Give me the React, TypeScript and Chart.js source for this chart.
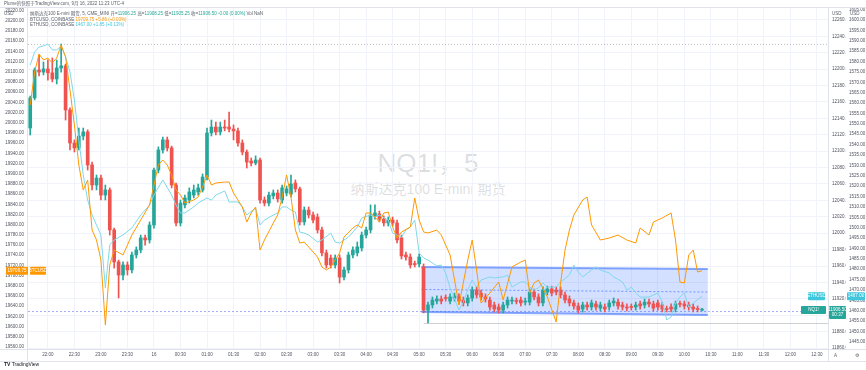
import React, { useEffect, useRef } from 'react';
import { Chart, registerables } from 'chart.js';

Chart.register(...registerables);

const FONT = '"Liberation Sans", "Noto Sans CJK SC", sans-serif';

// time slots (5-minute bars) of the category axis
const FIRST_SLOT_HOUR = 21;
const FIRST_SLOT_MIN = 40;
const SLOT_COUNT = 181;

// NQ1! 5-minute candles (right scale)
const nqOpen = [
  12128.25, 12165, 12199, 12196.5, 12200.25, 12195.5, 12188, 12201.5, 12204, 12150.25,
  12110, 12104, 12118.5, 12123.5, 12083.25, 12058.75, 12067.25, 12046.5, 12052.75, 12004,
  11965, 11949, 11961.25, 11955.25, 11973.5, 11979.5, 11994.25, 11991.75, 12010, 12077,
  12101.5, 12113.75, 12104, 12058.75, 12012.5, 12034.5, 12040.5, 12046.5, 12050.25, 12052.75,
  12068.5, 12122.25, 12129.5, 12123.5, 12129.5, 12129.5, 12127, 12124.75, 12110, 12099,
  12088, 12085.5, 12089.25, 12040.5, 12036.75, 12045.5, 12049, 12040.5, 12049, 12047.75,
  12061.25, 12054, 12013.75, 12028.25, 12022.25, 12019.75, 12004, 11976, 11969.75, 11961.25,
  11969.75, 11946.5, 11955.25, 11973.5, 11976, 11982, 11997.75, 12004, 12021, 12023.5,
  12017.25, 12012.5, 12016, 12012.5, 11994.25, 11973.5, 11971, 11962.5, 11962.5, 11958.75,
  11906.25, 11912.5, 11917.25, 11919.75, 11921, 11917.25, 11921, 11922.25, 11918.5, 11915,
  11921, 11930.75, 11927, 11922.25, 11918.5, 11912.5, 11910, 11906.25, 11912.5, 11917.25,
  11917.25, 11918.5, 11916, 11916, 11928.25, 11922.25, 11915, 11928.25, 11932, 11930.75,
  11930.75, 11924.75, 11919.75, 11915, 11911.25, 11907.5, 11912.5, 11910, 11913.75, 11908.75,
  11910, 11910, 11915, 11916, 11912.5, 11910, 11910, 11910, 11913.75, 11912.5,
  11916, 11913.75, 11915, 11912.5, 11907.5, 11910, 11907.5, 11913.75, 11913.75, 11912.5,
  11910, 11907.5, 11906.25,
];
const nqHigh = [
  12167.25, 12201.5, 12217.25, 12208.75, 12211.25, 12213.75, 12211.25, 12230.75, 12206.25, 12152.75,
  12113.75, 12128.25, 12128.25, 12126, 12086.75, 12071, 12071, 12058.75, 12055.25, 12006.25,
  11967.25, 11965, 11965, 11977, 11983.25, 11997.75, 11997.75, 12013.75, 12079.5, 12105.25,
  12117.25, 12117.25, 12106.25, 12061.25, 12040.5, 12046.5, 12055.25, 12058.75, 12060, 12072.25,
  12128.25, 12138, 12135.5, 12135.5, 12138, 12147.75, 12132, 12128.25, 12113.75, 12101.5,
  12091.75, 12094.25, 12091.75, 12044.25, 12050.25, 12052.75, 12052.75, 12058.75, 12057.5, 12071,
  12065, 12056.25, 12032, 12032, 12025.75, 12023.5, 12007.5, 11979.5, 11973.5, 11973.5,
  11973.5, 11958.75, 11977, 11983.25, 11989.25, 12001.5, 12007.5, 12034.5, 12034.5, 12027,
  12021, 12019.75, 12019.75, 12016, 11997.75, 11977, 11974.75, 11966, 11974.75, 11962.5,
  11916, 11922.25, 11923.5, 11923.5, 11924.75, 11926, 11927, 11926, 11922.25, 11924.75,
  11934.5, 11934.5, 11930.75, 11926, 11922.25, 11916, 11913.75, 11916, 11922.25, 11922.25,
  11921, 11922.25, 11921, 11932, 11932, 11926, 11934.5, 11935.5, 11935.5, 11934.5,
  11934.5, 11928.25, 11923.5, 11918.5, 11915, 11916, 11916, 11918.5, 11917.25, 11916,
  11913.75, 11918.5, 11921, 11919.75, 11916, 11913.75, 11913.75, 11916, 11917.25, 11919.75,
  11919.75, 11917.25, 11918.5, 11916, 11911.25, 11913.75, 11917.25, 11917.25, 11917.25, 11916,
  11913.75, 11911.25, 11908.25,
];
const nqLow = [
  12119.75, 12162.5, 12191.75, 12193, 12186.75, 12184.5, 12182, 12196.5, 12138, 12101.5,
  12099, 12101.5, 12113.75, 12077, 12052.75, 12052.75, 12040.5, 12040.5, 11997.75, 11957.5,
  11921, 11943, 11949, 11951.5, 11969.75, 11976, 11985.5, 11988, 12006.25, 12073.5,
  12097.75, 12100.25, 12055.25, 12008.75, 12008.75, 12030.75, 12036.75, 12043, 12046.5, 12050.25,
  12065, 12118.5, 12119.75, 12119.75, 12124.75, 12123.5, 12113.75, 12106.25, 12095.5, 12079.5,
  12082, 12083.25, 12036.75, 12033.25, 12033.25, 12041.75, 12038, 12036.75, 12045.5, 12044.25,
  12050.25, 12010, 12010, 12018.5, 12012.5, 12000.25, 11972.25, 11957.5, 11957.5, 11957.5,
  11939.25, 11943, 11951.5, 11969.75, 11972.25, 11978.25, 11994.25, 12000.25, 12017.25, 12013.75,
  12008.75, 12008.75, 12008.75, 11988, 11968.5, 11967.25, 11957.5, 11958.75, 11958.75, 11902.75,
  11890.5, 11908.75, 11913.75, 11913.75, 11917.25, 11913.75, 11917.25, 11913.75, 11911.25, 11911.25,
  11917.25, 11921, 11918.5, 11916, 11906.25, 11904, 11902.75, 11902.75, 11908.75, 11913.75,
  11913.75, 11911.25, 11912.5, 11912.5, 11918.5, 11911.25, 11911.25, 11924.75, 11923.5, 11924.75,
  11921, 11915, 11911.25, 11907.5, 11902.75, 11904, 11906.25, 11906.25, 11906.25, 11905.25,
  11904, 11906.25, 11911.25, 11907.5, 11906.25, 11905.25, 11906.25, 11906.25, 11907.5, 11908.75,
  11910, 11905.25, 11906.25, 11904, 11904, 11904, 11904, 11910, 11907.5, 11906.25,
  11904, 11904, 11905.25,
];
const nqClose = [
  12165, 12199, 12196.5, 12200.25, 12195.5, 12188, 12201.5, 12204, 12150.25, 12110,
  12104, 12118.5, 12123.5, 12083.25, 12058.75, 12067.25, 12046.5, 12052.75, 12004, 11965,
  11949, 11961.25, 11955.25, 11973.5, 11979.5, 11994.25, 11991.75, 12010, 12077, 12101.5,
  12113.75, 12104, 12058.75, 12012.5, 12036.75, 12043, 12050.25, 12052.75, 12055.25, 12068.5,
  12122.25, 12129.5, 12123.5, 12129.5, 12128.25, 12127, 12124.75, 12110, 12099, 12086.75,
  12085.5, 12089.25, 12040.5, 12036.75, 12046.5, 12049, 12041.75, 12055.25, 12054, 12060,
  12054, 12013.75, 12028.25, 12022.25, 12016, 12004, 11976, 11961.25, 11961.25, 11969.75,
  11946.5, 11955.25, 11973.5, 11979.5, 11983.25, 11997.75, 12004, 12022.25, 12024.75, 12017.25,
  12012.5, 12016, 12012.5, 11991.75, 11972.25, 11971, 11961.25, 11961.75, 11971, 11906.25,
  11912.5, 11918.5, 11919.75, 11917.25, 11920.5, 11922.25, 11923.5, 11917.25, 11915, 11921,
  11930.75, 11924.75, 11922.25, 11919.75, 11910, 11907.5, 11906.25, 11912.5, 11918.5, 11918.5,
  11916.75, 11915, 11917.25, 11928.25, 11922.25, 11915, 11930.75, 11932, 11927, 11928.25,
  11924.75, 11918.5, 11915, 11911.25, 11906.25, 11912.5, 11910, 11915, 11910, 11912.5,
  11907.5, 11915, 11917.25, 11911.25, 11910, 11908.75, 11909.5, 11912.5, 11911.25, 11916,
  11913.75, 11908.75, 11910, 11907.5, 11907, 11907.5, 11913.75, 11913.25, 11911.25, 11910,
  11907.5, 11907, 11906.5,
];

// BTCUSD (left scale) – readings at bar indices
const btcIndex = [
  0, 1, 2, 3, 4, 5, 6, 7, 8, 9, 10, 11, 12, 13, 14, 15, 16, 17, 18, 19, 21, 23, 25, 27, 29, 30, 31, 32, 33,
  34, 35, 37, 38, 39, 40, 41, 42, 44, 45, 46, 48, 49, 50, 51, 52, 53, 55, 56, 57, 58, 59, 60, 61, 62, 63,
  65, 66, 67, 68, 70, 71, 73, 74, 75, 76, 77, 78, 79, 80, 81, 82, 83, 84, 86, 87, 88, 89, 90,
  92, 93, 95, 97, 99, 100, 101, 102, 104, 106, 107, 109, 111, 112, 113, 114, 115, 117, 119, 120, 121,
  122, 123, 125, 126, 127, 129, 131, 133, 135, 137, 138, 140, 141, 143, 145, 146, 147, 148, 149, 150, 151, 152,
];
const btcValue = [
  20034.8, 20099.5, 20134.9, 20123.1, 20127, 20117.2, 20127, 20152.5, 20129, 20064.2, 19995.6, 19917.1,
  19868, 19887.6, 19789.5, 19769.9, 19730.7, 19603.2, 19720.9, 19750.3, 19740.5, 19779.7, 19809.2, 19838.6,
  19917.1, 19926.9, 19917.1, 19897.5, 19868,
  19858.2, 19842.5, 19848.4, 19854.3, 19873.9, 19897.5, 19877.8, 19881.8, 19883.7, 19883.7, 19862.1, 19834.7,
  19805.2, 19822.9, 19834.7, 19750.3, 19769.9, 19803.3, 19819, 19854.3, 19897.5, 19854.3, 19789.5, 19764,
  19766, 19756.2, 19736.6, 19717, 19711.1, 19717, 19744.4, 19775.8, 19793.5, 19799.4, 19793.5, 19822.9,
  19822.9, 19815, 19805.2, 19822.9, 19824.9, 19795.4, 19773.8, 19785.6, 19795.4, 19852.3, 19809.2, 19785.6, 19783.7,
  19789.5, 19779.7, 19740.5, 19642.4, 19730.7, 19769.9, 19711.1, 19646.3, 19665.9, 19687.5, 19652.2, 19717,
  19726.8, 19730.7, 19665.9, 19685.6, 19691.4, 19658.1, 19609, 19685.6, 19750.3, 19789.5, 19819, 19848.4,
  19854.3, 19799.4, 19769.9, 19773.8, 19779.7, 19769.9, 19764, 19793.5, 19779.7, 19805.2, 19813.1, 19822.9,
  19769.9, 19687.5, 19685.6, 19740.5, 19750.3, 19707.1, 19709.75,
];

// ETHUSD (second right scale) – readings at bar indices
const ethIndex = [
  0, 1, 2, 3, 4, 5, 6, 7, 8, 9, 10, 11, 12, 13, 14, 15, 16, 17, 18, 19, 21, 23, 25, 27, 28, 30, 32, 33,
  34, 35, 37, 38, 40, 41, 42, 44, 45, 47, 48, 49, 51, 52, 53, 55, 56, 57, 58, 59, 60, 61, 62, 63, 65, 66,
  68, 69, 70, 72, 73, 74, 75, 77, 78, 79, 81, 82, 84, 85, 86, 87, 88, 89, 90,
  92, 93, 94, 95, 97, 98, 99, 100, 101, 102, 104, 105, 107, 108, 109, 111, 112, 113, 114, 115, 116, 117,
  119, 120, 122, 123, 124, 125, 127, 128, 129, 131, 132, 134, 135, 136, 137, 138, 140, 142, 143, 144, 145,
  146, 147, 148, 149, 150, 152,
];
const ethValue = [
  1578.3, 1584.6, 1587.0, 1587.5, 1588.4, 1585.6, 1585.6, 1587.5, 1582.2, 1575.0, 1561.5, 1542.2, 1525.4,
  1513.3, 1506.1, 1501.3, 1496.5, 1471.0, 1491.7, 1494.1, 1496.5, 1499.9, 1506.1, 1510.9, 1515.7, 1523.0,
  1515.7, 1510.9,
  1507.1, 1507.1, 1510.0, 1511.9, 1514.3, 1513.3, 1515.7, 1517.7, 1512.4, 1512.4, 1510.0, 1506.1, 1509.5,
  1501.3, 1503.7, 1506.1, 1507.1, 1510.0, 1510.0, 1508.5, 1507.6, 1497.9, 1497.4, 1496.5, 1493.1, 1494.1,
  1497.4, 1493.1, 1492.6, 1495.5, 1497.9, 1500.3, 1504.7, 1506.1, 1505.1, 1506.1, 1503.7, 1497.4, 1495.5,
  1498.9, 1500.3, 1503.7, 1487.8, 1485.4, 1484.4,
  1481.6, 1482.0, 1478.2, 1471.0, 1460.4, 1464.2, 1470.0, 1474.8, 1471.4, 1474.8, 1476.3, 1475.8, 1476.3,
  1477.2, 1471.4, 1473.9, 1473.9, 1471.4, 1470.0, 1471.0, 1473.4, 1471.4, 1471.4, 1473.9, 1477.2, 1482.0,
  1478.7, 1476.3, 1479.6, 1481.1, 1479.6, 1478.2, 1476.3, 1473.9, 1470.0, 1471.4, 1468.6, 1466.6, 1466.6,
  1468.6, 1464.2, 1455.6, 1457.0, 1463.7, 1466.6, 1468.6, 1461.8, 1463.7, 1467.0,
];

// scale ranges and steps
const btcRange = [19556.1, 20225.1];
const nqRange = [11858.8, 12274.6];
const ethRange = [1441.6, 1605.78];
const btcStep = 20;
const nqStep = 20;
const ethStep = 5;

// drawings (NQ price values, bar indices)
const channelStart = 88.5;
const channelEnd = 153.3;
const channelTop = [11958.75, 11956.25];
const channelBottom = [11904, 11900.25];
const highLine = 12230.75;
const lowRayLevel = 11890.5;
const lowRayStart = 89;
const blueLevel = 11905;

const legendNQ = { title: '纳斯达克100 E-mini 期货, 5, CME_MINI', o: '11906.25', h: '11908.25', l: '11905.25', c: '11906.50', chg: '-0.00 (0.00%)' };
const legendBTC = { title: 'BTCUSD, COINBASE', last: '19709.75', chg: '+5.86 (+0.03%)' };
const legendETH = { title: 'ETHUSD, COINBASE', last: '1467.00', chg: '+1.85 (+0.13%)' };

const UP = '#26a69a';
const DOWN = '#ef5350';
const BTC_COLOR = '#ff9800';
const ETH_COLOR = '#7fd8ea';
const ETH_LABEL = '#3ec6dc';

function slotLabels(): string[] {
  const out: string[] = [];
  let h = FIRST_SLOT_HOUR;
  let m = FIRST_SLOT_MIN;
  for (let i = 0; i < SLOT_COUNT; i++) {
    out.push(`${String(h).padStart(2, '0')}:${String(m).padStart(2, '0')}`);
    m += 5;
    if (m >= 60) { m -= 60; h = (h + 1) % 24; }
  }
  return out;
}

function sparse(idx: number[], val: number[]): (number | null)[] {
  const arr: (number | null)[] = new Array(nqClose.length).fill(null);
  idx.forEach((ix, k) => { arr[ix] = val[k]; });
  return arr;
}

function labelBox(ctx: CanvasRenderingContext2D, x: number, y: number, w: number, h: number, bg: string, lines: string[]) {
  ctx.fillStyle = bg;
  ctx.beginPath();
  (ctx as any).roundRect ? (ctx as any).roundRect(x, y - h / 2, w, h, 1) : ctx.rect(x, y - h / 2, w, h);
  ctx.fill();
  ctx.fillStyle = '#ffffff';
  ctx.font = `4.5px ${FONT}`;
  ctx.textAlign = 'center';
  ctx.textBaseline = 'middle';
  const lh = 5;
  const y0 = y - ((lines.length - 1) * lh) / 2;
  lines.forEach((t, i) => ctx.fillText(t, x + w / 2, y0 + i * lh));
}

const overlayPlugin = {
  id: 'tvOverlay',
  beforeDatasetsDraw(chart: any) {
    const { ctx, chartArea: a, scales } = chart;
    const x = scales.x;
    const nq = scales.yNQ;
    ctx.save();
    ctx.beginPath();
    ctx.rect(a.left, a.top, a.right - a.left, a.bottom - a.top);
    ctx.clip();

    ctx.strokeStyle = 'rgba(120,123,134,0.45)';
    ctx.lineWidth = 1;
    ctx.setLineDash([1, 2]);
    let y = Math.round(nq.getPixelForValue(highLine)) + 0.5;
    ctx.beginPath(); ctx.moveTo(a.left, y); ctx.lineTo(a.right, y); ctx.stroke();

    y = Math.round(nq.getPixelForValue(lowRayLevel)) + 0.5;
    ctx.strokeStyle = 'rgba(120,123,134,0.35)';
    ctx.setLineDash([]);
    ctx.beginPath(); ctx.moveTo(x.getPixelForValue(lowRayStart), y); ctx.lineTo(a.right, y); ctx.stroke();

    y = Math.round(nq.getPixelForValue(blueLevel)) + 0.5;
    ctx.strokeStyle = 'rgba(98,110,240,0.55)';
    ctx.setLineDash([2, 2]);
    ctx.beginPath(); ctx.moveTo(a.left, y); ctx.lineTo(a.right, y); ctx.stroke();

    const x1 = x.getPixelForValue(channelStart);
    const x2 = x.getPixelForValue(channelEnd);
    const t1 = nq.getPixelForValue(channelTop[0]);
    const t2 = nq.getPixelForValue(channelTop[1]);
    const b1 = nq.getPixelForValue(channelBottom[0]);
    const b2 = nq.getPixelForValue(channelBottom[1]);
    ctx.setLineDash([]);
    ctx.fillStyle = 'rgba(41,98,255,0.2)';
    ctx.beginPath();
    ctx.moveTo(x1, t1); ctx.lineTo(x2, t2); ctx.lineTo(x2, b2); ctx.lineTo(x1, b1); ctx.closePath();
    ctx.fill();
    ctx.strokeStyle = 'rgba(41,98,255,0.55)';
    ctx.lineWidth = 2;
    ctx.beginPath(); ctx.moveTo(x1, t1); ctx.lineTo(x2, t2); ctx.stroke();
    ctx.beginPath(); ctx.moveTo(x1, b1); ctx.lineTo(x2, b2); ctx.stroke();
    ctx.lineWidth = 1;
    ctx.setLineDash([2, 2]);
    ctx.strokeStyle = 'rgba(41,98,255,0.6)';
    ctx.beginPath(); ctx.moveTo(x1, (t1 + b1) / 2); ctx.lineTo(x2, (t2 + b2) / 2); ctx.stroke();
    ctx.restore();
  },
  afterDraw(chart: any) {
    const { ctx, chartArea: a, scales } = chart;
    ctx.save();
    ctx.strokeStyle = '#e0e3eb';
    ctx.lineWidth = 1;
    ctx.beginPath();
    ctx.moveTo(0, a.top - 0.5); ctx.lineTo(866, a.top - 0.5);
    ctx.moveTo(0, a.bottom + 0.5); ctx.lineTo(866, a.bottom + 0.5);
    ctx.moveTo(0, 361.5); ctx.lineTo(866, 361.5);
    ctx.moveTo(a.left - 0.5, a.top); ctx.lineTo(a.left - 0.5, 361);
    ctx.moveTo(a.right + 0.5, a.top); ctx.lineTo(a.right + 0.5, 361);
    ctx.stroke();

    const btcLast = btcValue[btcValue.length - 1];
    const ethLast = ethValue[ethValue.length - 1];
    const nqLast = nqClose[nqClose.length - 1];
    const yb = scales.yBTC.getPixelForValue(btcLast);
    labelBox(ctx, 6, yb, 22, 8, BTC_COLOR, [btcLast.toFixed(2)]);
    labelBox(ctx, 30, yb, 16, 8, BTC_COLOR, ['BTCUSD']);
    const ye = scales.yETH.getPixelForValue(ethLast);
    labelBox(ctx, 847, ye, 18, 8, ETH_LABEL, [ethLast.toFixed(2)]);
    labelBox(ctx, 808, ye, 17, 8, ETH_LABEL, ['ETHUSD']);
    const yn = scales.yNQ.getPixelForValue(nqLast);
    labelBox(ctx, 829, yn + 2.5, 17, 13, UP, [nqLast.toFixed(2), '00:37']);
    labelBox(ctx, 801, yn, 25, 8, UP, ['NQ1!']);
    ctx.restore();
  },
};

export default function App() {
  const ref = useRef<HTMLCanvasElement>(null);

  useEffect(() => {
    document.body.style.margin = '0';
    const labels = slotLabels();
    const isHalfHour = (i: number) => labels[i] && (labels[i].endsWith(':00') || labels[i].endsWith(':30'));
    const colors = nqClose.map((c, i) => (c >= nqOpen[i] ? UP : DOWN));
    const tickFont = { size: 4.5, family: FONT };
    const tickColor = '#50535e';

    const chart = new Chart(ref.current as HTMLCanvasElement, {
      type: 'bar',
      data: {
        labels,
        datasets: [
          {
            type: 'line',
            label: 'BTCUSD',
            data: sparse(btcIndex, btcValue),
            yAxisID: 'yBTC',
            borderColor: BTC_COLOR,
            borderWidth: 1,
            pointRadius: 0,
            spanGaps: true,
            tension: 0,
            order: 0,
          } as any,
          {
            type: 'line',
            label: 'ETHUSD',
            data: sparse(ethIndex, ethValue),
            yAxisID: 'yETH',
            borderColor: ETH_COLOR,
            borderWidth: 1,
            pointRadius: 0,
            spanGaps: true,
            tension: 0,
            order: 0,
          } as any,
          {
            type: 'bar',
            label: 'body',
            data: nqOpen.map((o, i) => [o, nqClose[i]]),
            yAxisID: 'yNQ',
            backgroundColor: colors,
            barThickness: 3,
            minBarLength: 1,
            grouped: false,
            order: 1,
          } as any,
          {
            type: 'bar',
            label: 'wick',
            data: nqLow.map((l, i) => [l, nqHigh[i]]),
            yAxisID: 'yNQ',
            backgroundColor: colors,
            barThickness: 1,
            grouped: false,
            order: 2,
          } as any,
        ],
      },
      options: {
        responsive: false,
        animation: false,
        devicePixelRatio: 1,
        events: [],
        layout: { padding: { top: 8, bottom: 9, left: 0, right: 0 } },
        plugins: { legend: { display: false }, tooltip: { enabled: false } },
        scales: {
          x: {
            type: 'category',
            offset: true,
            border: { display: false },
            grid: { color: '#f0f3fa', offset: false, drawTicks: false },
            ticks: {
              autoSkip: false,
              maxRotation: 0,
              padding: 3,
              font: tickFont,
              color: tickColor,
              callback: function (this: any, v: any) {
                const l = labels[v as number];
                return l === '00:00' ? '16' : l;
              },
            },
            afterBuildTicks: (s: any) => { s.ticks = s.ticks.filter((t: any) => isHalfHour(t.value)); },
            afterFit: (s: any) => { s.height = 12; },
          },
          yBTC: {
            type: 'linear',
            position: 'left',
            min: btcRange[0],
            max: btcRange[1],
            border: { display: false },
            grid: { display: false, drawTicks: false },
            ticks: { stepSize: btcStep, includeBounds: false, autoSkip: false, padding: 4, font: tickFont, color: tickColor, callback: (v: any) => Number(v).toFixed(2) },
            afterFit: (s: any) => { s.width = 28; },
          },
          yNQ: {
            type: 'linear',
            position: 'right',
            weight: 0,
            min: nqRange[0],
            max: nqRange[1],
            border: { display: false },
            grid: { color: '#f0f3fa', drawTicks: false },
            ticks: { stepSize: nqStep, includeBounds: false, autoSkip: false, padding: 4, font: tickFont, color: tickColor, callback: (v: any) => Number(v).toFixed(2) },
            afterFit: (s: any) => { s.width = 18; },
          },
          yETH: {
            type: 'linear',
            position: 'right',
            weight: 1,
            min: ethRange[0],
            max: ethRange[1],
            border: { display: false },
            grid: { display: false, drawTicks: false },
            ticks: { stepSize: ethStep, includeBounds: false, autoSkip: false, padding: 3, font: tickFont, color: tickColor, callback: (v: any) => Number(v).toFixed(2) },
            afterFit: (s: any) => { s.width = 20; },
          },
        },
      } as any,
      plugins: [overlayPlugin],
    });
    return () => chart.destroy();
  }, []);

  const small: React.CSSProperties = { position: 'absolute', fontSize: 4.5, lineHeight: '5px', whiteSpace: 'nowrap', fontFamily: FONT, zIndex: 2 };

  return (
    <div style={{ position: 'relative', width: 866, height: 370, background: '#ffffff', overflow: 'hidden', fontFamily: FONT }}>
      <div style={{ position: 'absolute', left: 28, width: 800, top: 146, textAlign: 'center', color: 'rgba(120,123,134,0.25)', zIndex: 0 }}>
        <div style={{ fontSize: 26, lineHeight: '34px', fontFamily: FONT }}>NQ1!，5</div>
        <div style={{ fontSize: 14, lineHeight: '18px', fontFamily: FONT }}>纳斯达克100 E-mini 期货</div>
      </div>
      <canvas ref={ref} width={866} height={370} style={{ position: 'absolute', left: 0, top: 0, zIndex: 1 }} />
      <div style={{ ...small, left: 4, top: 1, color: '#5d606b' }}>Plume的快照于TradingView.com, 9月 16, 2022 11:23 UTC-4</div>
      <div style={{ ...small, left: 4, top: 11, color: '#5d606b' }}>USD</div>
      <div style={{ ...small, left: 832, top: 11, color: '#5d606b' }}>USD</div>
      <div style={{ ...small, left: 850, top: 11, color: '#5d606b' }}>USD</div>
      <div style={{ ...small, left: 30, top: 11, color: '#5d606b' }}>
        {legendNQ.title}{'  '}
        <span style={{ color: '#5d606b' }}>开=</span><span style={{ color: UP }}>{legendNQ.o}</span>{' '}
        <span style={{ color: '#5d606b' }}>高=</span><span style={{ color: UP }}>{legendNQ.h}</span>{' '}
        <span style={{ color: '#5d606b' }}>低=</span><span style={{ color: UP }}>{legendNQ.l}</span>{' '}
        <span style={{ color: '#5d606b' }}>收=</span><span style={{ color: UP }}>{legendNQ.c} {legendNQ.chg}</span>{' '}
        <span style={{ color: '#5d606b' }}>Vol NaN</span>
      </div>
      <div style={{ ...small, left: 30, top: 16.5, color: '#5d606b' }}>
        {legendBTC.title}{'  '}<span style={{ color: BTC_COLOR }}>{legendBTC.last} {legendBTC.chg}</span>
      </div>
      <div style={{ ...small, left: 30, top: 22, color: '#5d606b' }}>
        {legendETH.title}{'  '}<span style={{ color: ETH_LABEL }}>{legendETH.last} {legendETH.chg}</span>
      </div>
      <div style={{ ...small, left: 834, top: 352.5, color: '#5d606b' }}>A</div>
      <div style={{ ...small, left: 855, top: 352.5, color: '#5d606b' }}>⚙</div>
      <div style={{ ...small, left: 4, top: 362, color: '#131722', fontSize: 5 }}>
        <b>TV</b> TradingView
      </div>
    </div>
  );
}
